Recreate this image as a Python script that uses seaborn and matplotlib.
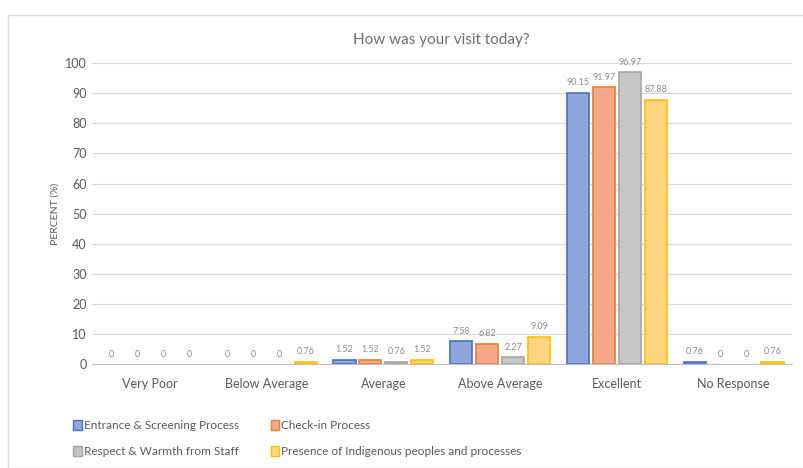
import pandas as pd
import seaborn as sns
import matplotlib.pyplot as plt
from matplotlib.patches import Rectangle

# datos
categories = ['Very Poor', 'Below Average', 'Average', 'Above Average', 'Excellent', 'No Response']
series = ['Entrance & Screening Process', 'Check-in Process',
          'Respect & Warmth from Staff', 'Presence of Indigenous peoples and processes']
entrance = [0, 0, 1.52, 7.58, 90.15, 0.76]
checkin = [0, 0, 1.52, 6.82, 91.97, 0]
respect = [0, 0, 0.76, 2.27, 96.97, 0]
indigenous = [0, 0.76, 1.52, 9.09, 87.88, 0.76]

fills = ['#8FA6DC', '#F4A988', '#C6C6C6', '#FFD584']
edges = ['#4472C4', '#ED7D31', '#A5A5A5', '#FFC000']

rows = []
for name, vals in zip(series, [entrance, checkin, respect, indigenous]):
    for cat, v in zip(categories, vals):
        rows.append({'Rating': cat, 'Series': name, 'Percent': v})
df = pd.DataFrame(rows)

sns.set_style('white')
plt.rcParams['font.family'] = ['Lato', 'DejaVu Sans']
txt = '#595959'

fig = plt.figure(figsize=(8.04, 4.68), dpi=100)
fig.patches.append(Rectangle((8 / 804, 0), 1.0, 1 - 15 / 468, transform=fig.transFigure,
                             fill=False, edgecolor='#D9D9D9', linewidth=1))
ax = fig.add_axes([0.114, 0.222, 0.871, 0.643])

sns.barplot(data=df, x='Rating', y='Percent', hue='Series', order=categories,
            hue_order=series, palette=fills, saturation=1, width=0.89, gap=0.15,
            ax=ax, legend=False)

for cont, ec in zip(ax.containers, edges):
    for b in cont:
        b.set_edgecolor(ec)
        b.set_linewidth(1.2 if b.get_height() > 0 else 0)
    ax.bar_label(cont, labels=['%g' % b.get_height() for b in cont],
                 padding=4, fontsize=6.5, color='#8C8C8C')

ax.set_ylim(0, 100)
ax.set_yticks(range(0, 101, 10))
ax.yaxis.grid(True, color='#D9D9D9', linewidth=0.9)
ax.set_axisbelow(True)
for s in ['top', 'right', 'left']:
    ax.spines[s].set_visible(False)
ax.spines['bottom'].set_color('#BFBFBF')
ax.tick_params(axis='both', length=0, colors=txt, labelsize=9)
ax.tick_params(axis='x', pad=10)
ax.set_xlabel('')
ax.set_ylabel('PERCENT (%)', fontsize=7.5, color=txt)
ax.set_title('How was your visit today?', fontsize=11, color='#6E6E6E', pad=14)

# orden por filas: la leyenda se llena por columnas
handles = [Rectangle((0, 0), 1, 1, facecolor=f, edgecolor=e) for f, e in zip(fills, edges)]
order = [0, 2, 1, 3]
fig.legend([handles[i] for i in order], [series[i] for i in order], ncol=2,
           loc='lower left', bbox_to_anchor=(0.078, 0.0),
           frameon=False, fontsize=8.5, labelcolor=txt, handlelength=0.7, handleheight=0.9,
           handletextpad=0.2, columnspacing=2.7, labelspacing=1.3)

plt.savefig('out.png', dpi=100)
